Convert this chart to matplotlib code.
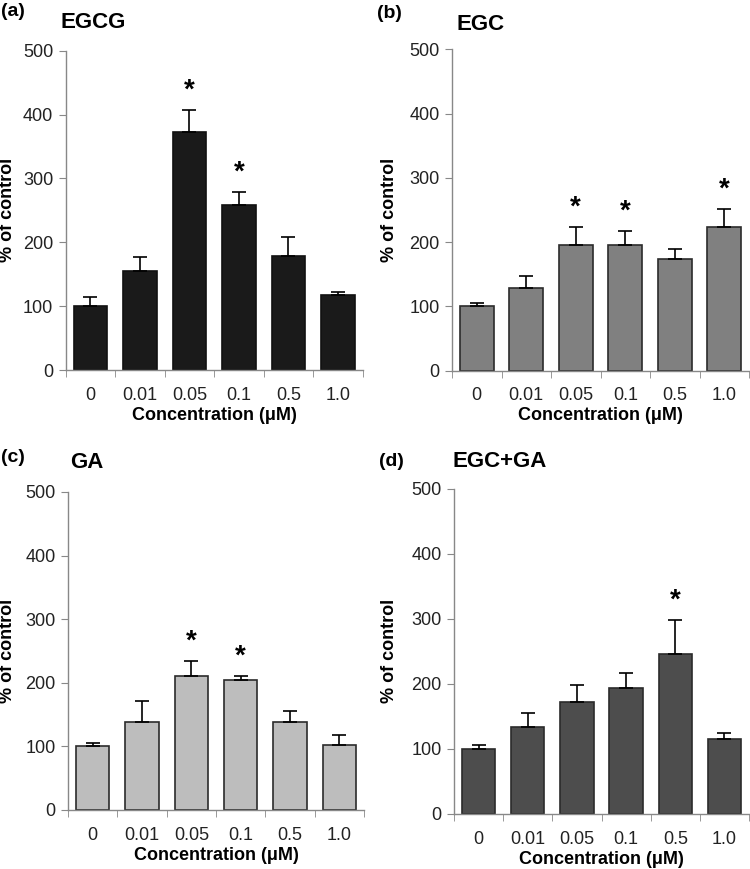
import matplotlib
matplotlib.use("Agg")
import matplotlib.pyplot as plt
import numpy as np

plt.rcParams['font.family'] = ['Liberation Sans', 'DejaVu Sans']

concentrations = ['0', '0.01', '0.05', '0.1', '0.5', '1.0']

egcg_mean = [100, 155, 372, 259, 178, 118]
egcg_err = [14, 22, 35, 20, 30, 4]
egcg_sig = [False, False, True, True, False, False]

egc_mean = [100, 129, 196, 195, 174, 223]
egc_err = [6, 18, 28, 23, 16, 29]
egc_sig = [False, False, True, True, False, True]

ga_mean = [100, 138, 210, 204, 139, 102]
ga_err = [6, 33, 25, 6, 16, 16]
ga_sig = [False, False, True, True, False, False]

mix_mean = [100, 134, 172, 194, 246, 115]
mix_err = [6, 21, 27, 23, 52, 10]
mix_sig = [False, False, False, False, True, False]

# tag, name, data, colours, axes box (px), tag pos, name pos, ylabel x, xlabel y
panels = [
    ('(a)', 'EGCG', egcg_mean, egcg_err, egcg_sig, '#1a1a1a', '#111111',
     [65.7, 50.7, 362.7, 370], (1, 12), (60, 23), 8, 415),
    ('(b)', 'EGC', egc_mean, egc_err, egc_sig, '#808080', '#2b2b2b',
     [452, 49.3, 749, 370.7], (377, 13), (457, 25), 390, 415),
    ('(c)', 'GA', ga_mean, ga_err, ga_sig, '#bdbdbd', '#2b2b2b',
     [68, 492, 364, 810], (1, 457), (70, 463), 8, 855),
    ('(d)', 'EGC+GA', mix_mean, mix_err, mix_sig, '#4d4d4d', '#2b2b2b',
     [454, 488.7, 749, 814], (379, 462), (453, 462), 389, 859),
]

W, H = 750, 869
fig = plt.figure(figsize=(W / 100, H / 100), dpi=100)

for (tag, name, mean, err, sig, color, edge, box,
     tag_xy, name_xy, ylab_x, xlab_y) in panels:
    x0, y0, x1, y1 = box
    ax = fig.add_axes([x0 / W, 1 - y1 / H, (x1 - x0) / W, (y1 - y0) / H])
    x = np.arange(len(concentrations))
    ax.bar(x, mean, width=0.68, color=color, edgecolor=edge, linewidth=1.2, zorder=2)
    ax.errorbar(x, mean, yerr=[np.zeros(len(err)), err], fmt='none',
                ecolor='black', elinewidth=1.2, capsize=5, capthick=1.2, zorder=3)
    for xi, m, e, s in zip(x, mean, err, sig):
        if s:
            ax.text(xi, m + e + 10, '*', ha='center', va='bottom',
                    fontsize=20, fontweight='bold')
    ax.set_xlim(-0.5, len(concentrations) - 0.5)
    ax.set_ylim(0, 500)
    ax.set_yticks([0, 100, 200, 300, 400, 500])
    ax.set_xticks(x)
    ax.set_xticklabels(concentrations)
    ax.tick_params(axis='x', length=0, labelsize=13, pad=12, colors='#222222')
    ax.set_xticks(np.arange(-0.5, len(concentrations)), minor=True)
    ax.tick_params(axis='x', which='minor', length=5, color='#888888', direction='out')
    ax.tick_params(axis='y', length=5, labelsize=13, color='#888888',
                   labelcolor='#222222', pad=4)
    for side in ['top', 'right']:
        ax.spines[side].set_visible(False)
    for side in ['left', 'bottom']:
        ax.spines[side].set_color('#888888')
        ax.spines[side].set_linewidth(1.0)

    fig.text(ylab_x / W, 1 - (y0 + y1) / 2 / H, '% of control', rotation=90,
             fontsize=13, fontweight='bold', ha='center', va='center')
    fig.text((x0 + x1) / 2 / W, 1 - xlab_y / H, 'Concentration (μM)',
             fontsize=13, fontweight='bold', ha='center', va='center')
    fig.text(name_xy[0] / W, 1 - name_xy[1] / H, name, fontsize=16,
             fontweight='bold', ha='left', va='center')
    fig.text(tag_xy[0] / W, 1 - tag_xy[1] / H, tag,
             fontsize=14, fontweight='bold', ha='left', va='center')

fig.savefig('out.png', dpi=100)
